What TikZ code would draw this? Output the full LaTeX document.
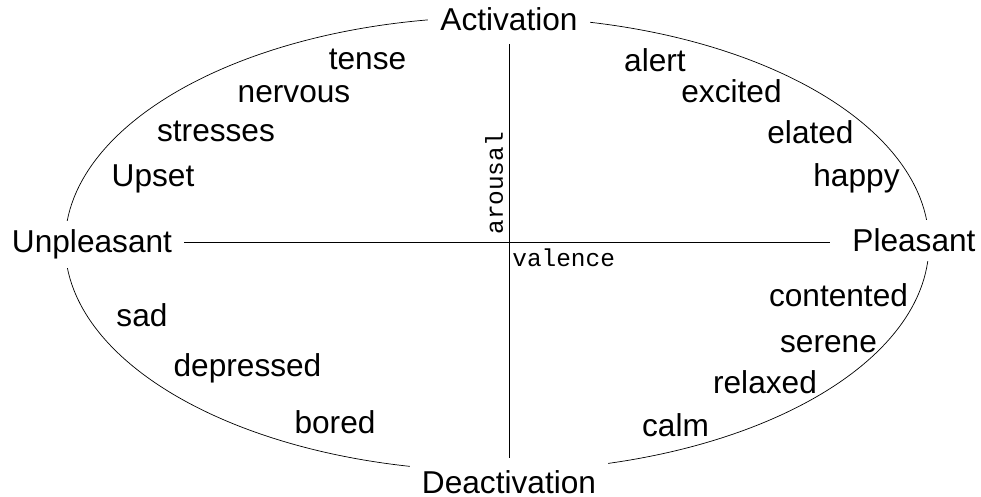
\documentclass[tikz,border=0pt]{standalone}
\usepackage{fontspec}
\setmainfont{Liberation Sans}
\newfontfamily\axisfont{Liberation Mono}

\begin{document}
\begin{tikzpicture}[font = \fontsize{18}{22}\selectfont,
        pole/.style = {fill = white, inner xsep = 7pt, inner ysep = 5pt, anchor = base},
        mood/.style = {inner sep = 0pt, anchor = base},
        axislabel/.style = {font = \axisfont\fontsize{13.9}{16}\selectfont, inner sep = 0pt, anchor = base west}]
                \useasboundingbox (-10.18, -5.10) rectangle (9.44, 4.84);
                \draw (-0.24, -0.04) ellipse [x radius = 8.64, y radius = 4.54];
                \coordinate (vw) at (-6.52, 0);
                \coordinate (ve) at (6.42, 0);
                \coordinate (an) at (0, 3.96);
                \coordinate (as) at (0, -4.32);
                \draw (vw) -- (ve);
                \draw (an) -- (as);
                \draw
                    node [pole] (act) at (0, 4.22) {Activation}
                    node [pole] (deact) at (0, -5.03) {Deactivation}
                    node [pole] (unpl) at (-8.34, -0.22) {Unpleasant}
                    node [pole] (pl) at (8.10, -0.20) {Pleasant};
                \path
                    node [axislabel, rotate = 90] (arousal) at (-0.12, 0.14) {arousal}
                    node [axislabel] (valence) at (0.06, -0.50) {valence};
                \path
                    node [mood] (tense) at (-2.83, 3.44) {tense}
                    node [mood] (nervous) at (-4.30, 2.78) {nervous}
                    node [mood] (stresses) at (-5.86, 2.00) {stresses}
                    node [mood] (upset) at (-7.12, 1.10) {Upset}
                    node [mood] (alert) at (2.92, 3.40) {alert}
                    node [mood] (excited) at (4.45, 2.78) {excited}
                    node [mood] (elated) at (6.03, 1.96) {elated}
                    node [mood] (happy) at (6.95, 1.10) {happy}
                    node [mood] (contented) at (6.59, -1.30) {contented}
                    node [mood] (serene) at (6.39, -2.22) {serene}
                    node [mood] (relaxed) at (5.12, -3.04) {relaxed}
                    node [mood] (calm) at (3.33, -3.90) {calm}
                    node [mood] (sad) at (-7.34, -1.70) {sad}
                    node [mood] (depressed) at (-5.23, -2.70) {depressed}
                    node [mood] (bored) at (-3.48, -3.84) {bored};
            \end{tikzpicture}
\end{document}
